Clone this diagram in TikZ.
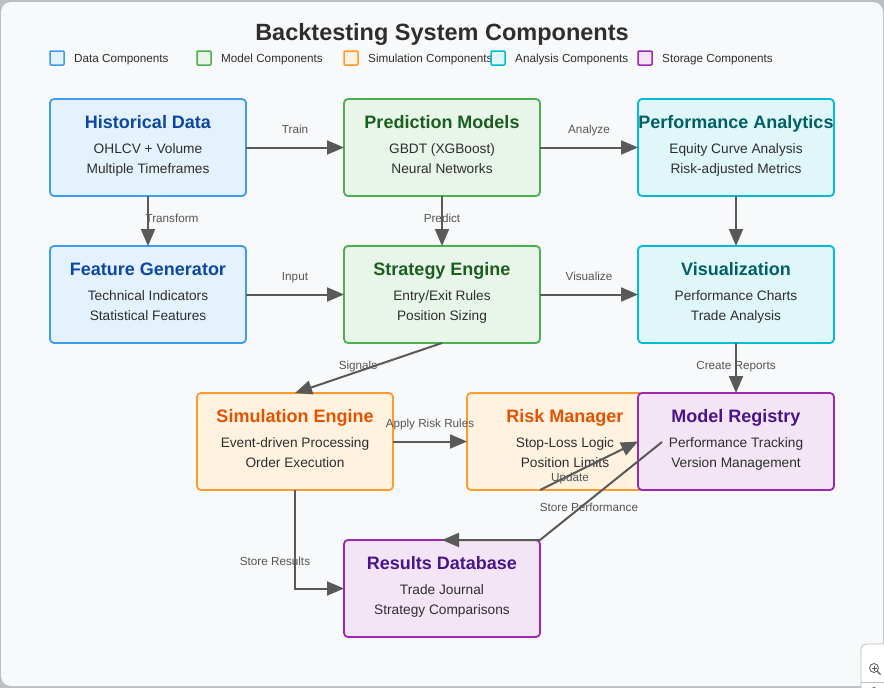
\documentclass[tikz,border=0pt]{standalone}
\usepackage{fontspec}
\setmainfont{Liberation Sans}
\usetikzlibrary{arrows.meta}
\definecolor{bgC}{HTML}{F8F9FA}
\definecolor{frameC}{HTML}{B9BFC3}
\definecolor{dataB}{HTML}{3D9BF0}
\definecolor{dataF}{HTML}{E3F2FD}
\definecolor{dataT}{HTML}{0D47A1}
\definecolor{modB}{HTML}{4CAF50}
\definecolor{modF}{HTML}{E8F5E9}
\definecolor{modT}{HTML}{1B5E20}
\definecolor{anaB}{HTML}{00BCD4}
\definecolor{anaF}{HTML}{E0F7FA}
\definecolor{anaT}{HTML}{006064}
\definecolor{simB}{HTML}{FF9A2E}
\definecolor{simF}{HTML}{FFF3E0}
\definecolor{simT}{HTML}{E65100}
\definecolor{stoB}{HTML}{9C27B0}
\definecolor{stoF}{HTML}{F3E5F5}
\definecolor{stoT}{HTML}{4A148C}
\definecolor{bodyC}{HTML}{2E2E2E}
\definecolor{edgeC}{HTML}{595959}
\definecolor{labC}{HTML}{555555}
\tikzset{
  box/.style={draw, line width=1.8pt, rounded corners=4pt, minimum width=196pt,
    minimum height=97pt, inner sep=0pt, outer sep=0pt},
  databox/.style={box, draw=dataB, fill=dataF},
  modbox/.style={box, draw=modB, fill=modF},
  anabox/.style={box, draw=anaB, fill=anaF},
  simbox/.style={box, draw=simB, fill=simF},
  stobox/.style={box, draw=stoB, fill=stoF},
  ttl/.style={font=\fontsize{18}{21}\selectfont\bfseries, anchor=base, inner sep=0pt},
  bodytxt/.style={font=\fontsize{13.7}{16}\selectfont, text=bodyC, anchor=base, inner sep=0pt},
  arr/.style={draw=edgeC, line width=2pt, -{Triangle[length=17pt,width=14pt]}},
  elab/.style={font=\fontsize{11.7}{14}\selectfont, text=labC, anchor=base, inner sep=0pt},
  legsq/.style={line width=1.5pt, minimum size=14pt, inner sep=0pt, rounded corners=1pt},
  legtxt/.style={font=\fontsize{11.7}{14}\selectfont, text=bodyC, anchor=base west, inner sep=0pt},
}
% name, x, y, style, title colour, title, line1, line2
\newcommand\compbox[8]{%
  \node[#4] (#1) at (#2,#3) {};
  \node[ttl, text=#5] (#1-t) at (#2,#3-19) {#6};
  \node[bodytxt] (#1-a) at (#2,#3+5.5) {#7};
  \node[bodytxt] (#1-b) at (#2,#3+25.5) {#8};
}
\begin{document}
\begin{tikzpicture}[x=1pt,y=-1pt]
\useasboundingbox (0,0) rectangle (884,688);
\fill[frameC] (0,0) rectangle (884,688);
\fill[bgC, rounded corners=10pt] (1,2) rectangle (883,686);

% title
\node[font=\fontsize{23.5}{28}\selectfont\bfseries, text=bodyC, anchor=base, inner sep=0pt] (title) at (442,40.5) {Backtesting System Components};

% legend
\node[legsq, draw=dataB, fill=dataF] (lg1) at (57,58) {};
\node[legtxt] (lg1t) at (74,62.5) {Data Components};
\node[legsq, draw=modB, fill=modF] (lg2) at (204,58) {};
\node[legtxt] (lg2t) at (221,62.5) {Model Components};
\node[legsq, draw=simB, fill=simF] (lg3) at (351,58) {};
\node[legtxt] (lg3t) at (368,62.5) {Simulation Components};
\node[legsq, draw=anaB, fill=anaF] (lg4) at (498,58) {};
\node[legtxt] (lg4t) at (515,62.5) {Analysis Components};
\node[legsq, draw=stoB, fill=stoF] (lg5) at (645,58) {};
\node[legtxt] (lg5t) at (662,62.5) {Storage Components};

% components
\compbox{hist}{148}{147.5}{databox}{dataT}{Historical Data}{OHLCV + Volume}{Multiple Timeframes}
\compbox{pred}{442}{147.5}{modbox}{modT}{Prediction Models}{GBDT (XGBoost)}{Neural Networks}
\compbox{perf}{736}{147.5}{anabox}{anaT}{Performance Analytics}{Equity Curve Analysis}{Risk-adjusted Metrics}
\compbox{feat}{148}{294.5}{databox}{dataT}{Feature Generator}{Technical Indicators}{Statistical Features}
\compbox{strat}{442}{294.5}{modbox}{modT}{Strategy Engine}{Entry/Exit Rules}{Position Sizing}
\compbox{vis}{736}{294.5}{anabox}{anaT}{Visualization}{Performance Charts}{Trade Analysis}
\compbox{sim}{295}{441.5}{simbox}{simT}{Simulation Engine}{Event-driven Processing}{Order Execution}
\compbox{risk}{565}{441.5}{simbox}{simT}{Risk Manager}{Stop-Loss Logic}{Position Limits}
\compbox{reg}{736}{441.5}{stobox}{stoT}{Model Registry}{Performance Tracking}{Version Management}
\compbox{res}{442}{588.5}{stobox}{stoT}{Results Database}{Trade Journal}{Strategy Comparisons}

% free ends
\coordinate (upd) at (540,490);
\coordinate (sp) at (662,442);

% connectors
\draw[arr] (hist.east) -- (pred.west);
\draw[arr] (pred.east) -- (perf.west);
\draw[arr] (hist.south) -- (feat.north);
\draw[arr] (pred.south) -- (strat.north);
\draw[arr] (perf.south) -- (vis.north);
\draw[arr] (feat.east) -- (strat.west);
\draw[arr] (strat.east) -- (vis.west);
\draw[arr] (strat.south) -- (sim.north);
\draw[arr] (vis.south) -- (reg.north);
\draw[arr] (sim.east) -- (risk.west);
\draw[arr] (upd) -- (reg.west);
\draw[arr] (sp) -- (res.north east) -- (res.north);
\draw[arr] (sim.south) |- (res.west);

% connector labels
\node[elab] (l1) at (295,133) {Train};
\node[elab] (l2) at (589,133) {Analyze};
\node[elab] (l3) at (172,222) {Transform};
\node[elab] (l4) at (442,222) {Predict};
\node[elab] (l5) at (295,280) {Input};
\node[elab] (l6) at (589,280) {Visualize};
\node[elab] (l7) at (358,369) {Signals};
\node[elab] (l8) at (736,369) {Create Reports};
\node[elab] (l9) at (430,427) {Apply Risk Rules};
\node[elab] (l10) at (570,481) {Update};
\node[elab] (l11) at (589,511) {Store Performance};
\node[elab] (l12) at (275,565) {Store Results};

% zoom widget (bottom right)
\draw[fill=white, draw=frameC, line width=0.8pt, rounded corners=5pt] (861,644) rectangle (895,700);
\draw[frameC, line width=0.8pt] (861,682) -- (884,682);
\draw[edgeC, line width=0.8pt] (874,668) circle (4.5pt);
\draw[edgeC, line width=0.8pt] (871.5,668) -- (876.5,668) (874,665.5) -- (874,670.5);
\draw[edgeC, line width=1.2pt] (877.3,671.3) -- (880.5,674.5);
\draw[edgeC, line width=0.8pt] (874,692) circle (4.5pt);
\end{tikzpicture}
\end{document}
